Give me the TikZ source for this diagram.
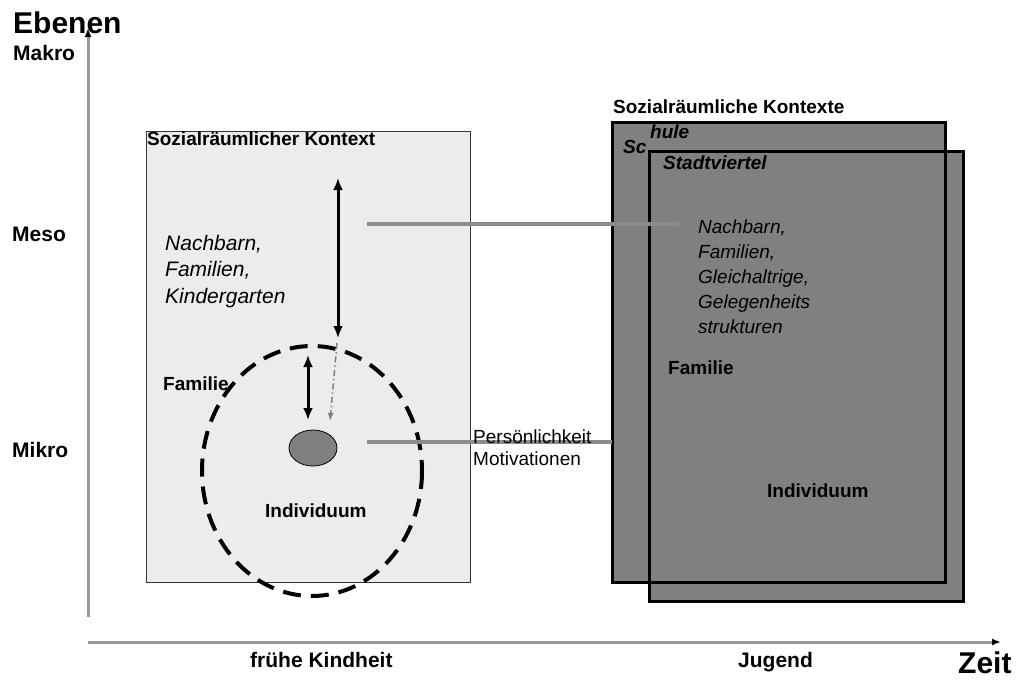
\documentclass[tikz,border=0pt]{standalone}
\usepackage{fontspec}
\setmainfont{Liberation Sans}
\usetikzlibrary{arrows.meta}
\definecolor{lightbox}{gray}{0.925}
\definecolor{darkbox}{gray}{0.5}
\definecolor{axisgray}{gray}{0.6}
\definecolor{linkgray}{gray}{0.55}
\tikzset{
	lbl/.style={anchor=base west, inner sep=0pt, font=\bfseries\fontsize{19}{22}\selectfont},
	axislbl/.style={lbl, font=\bfseries\fontsize{21}{24}\selectfont},
	biglbl/.style={lbl, font=\bfseries\fontsize{30}{34}\selectfont},
	itlbl/.style={lbl, font=\itshape\fontsize{21}{24}\selectfont},
	smallit/.style={lbl, font=\itshape\fontsize{19}{22}\selectfont},
	bilbl/.style={lbl, font=\bfseries\itshape\fontsize{19}{22}\selectfont},
	plain/.style={lbl, font=\fontsize{19}{22}\selectfont},
	axis/.style={axisgray, line width=3pt, -{Latex[length=9pt,width=7pt,black]}},
	link/.style={linkgray, line width=4pt},
	dblarrow/.style={black, line width=3pt, {Latex[length=12pt,width=10pt]}-{Latex[length=12pt,width=10pt]}}
}
\begin{document}
\begin{tikzpicture}[x=1pt, y=-1pt]
	\useasboundingbox (0,0) rectangle (1019,681);

	\coordinate (origin) at (88,617);
	\coordinate (ytip) at (88,28);
	\coordinate (xstart) at (88,642);
	\coordinate (xtip) at (1001,642);
	\draw[axis]	(origin) -- (ytip);
	\draw[axis]	(xstart) -- (xtip);

	\node[biglbl] (ebenen) at (13,33) {Ebenen};
	\node[axislbl] (makro) at (13,60) {Makro};
	\node[axislbl] (meso) at (12,241) {Meso};
	\node[axislbl] (mikro) at (12,457) {Mikro};
	\node[biglbl] (zeit) at (958,673) {Zeit};
	\node[axislbl] (kindheit) at (250,667) {frühe Kindheit};
	\node[axislbl] (jugend) at (738,667) {Jugend};

	\filldraw[fill=lightbox, draw=black!80, line width=0.8pt]	(146,131) rectangle (470,582);
	\node[lbl] (kontext) at (147,145) {Sozialräumlicher Kontext};

	\fill[darkbox]	(612,122) rectangle (945,582)
					(649,151) rectangle (963,601);
	\draw[black, line width=3pt]	(612,122) rectangle (945,582)
									(649,151) rectangle (963,601);
	\node[lbl] (kontexte) at (613,113) {Sozialräumliche Kontexte};
	\node[bilbl] (sc) at (623,153) {Sc};
	\node[bilbl] (hule) at (650,138) {hule};
	\node[bilbl] (viertel) at (663,169) {Stadtviertel};

	\foreach \txt [count=\i from 0] in {Nachbarn{,}, Familien{,}, Kindergarten}
		\node[itlbl] (links\i) at (165,250+26.5*\i) {\txt};
	\foreach \txt [count=\i from 0] in {Nachbarn{,}, Familien{,}, Gleichaltrige{,}, Gelegenheits, strukturen}
		\node[smallit] (rechts\i) at (698,233+25*\i) {\txt};

	\node[lbl] (familieL) at (163,390) {Familie};
	\node[lbl] (individL) at (265,517) {Individuum};
	\node[lbl] (familieR) at (668,374) {Familie};
	\node[lbl] (individR) at (767,497) {Individuum};

	\draw[black, line width=4pt, dash pattern=on 18pt off 10pt]	(312,471) ellipse (110 and 125);
	\filldraw[fill=darkbox, draw=black, line width=0.8pt]	(313,448) ellipse (24 and 18);

	\coordinate (mesoTop) at (338,178);
	\coordinate (mesoBot) at (338,338);
	\coordinate (famTop) at (308,355);
	\coordinate (famBot) at (308,420);
	\coordinate (dotTop) at (337,343);
	\coordinate (dotBot) at (330,421);
	\draw[dblarrow]	(mesoTop) -- (mesoBot);
	\draw[dblarrow]	(famTop) -- (famBot);
	\draw[gray, line width=1.5pt, dash pattern=on 6pt off 3pt on 1.5pt off 3pt, -{Latex[length=8pt,width=6pt]}]	(dotTop) -- (dotBot);

	\coordinate (linkA) at (367,224);
	\coordinate (linkB) at (684,224);
	\coordinate (linkC) at (367,442);
	\coordinate (linkD) at (612,442);
	\draw[link, -{Latex[length=8pt,width=8pt]}]	(linkA) -- (linkB);
	\draw[link]	(linkC) -- (linkD);

	\node[plain] (pers) at (473,443) {Persönlichkeit};
	\node[plain] (motiv) at (473,465) {Motivationen};
\end{tikzpicture}
\end{document}
